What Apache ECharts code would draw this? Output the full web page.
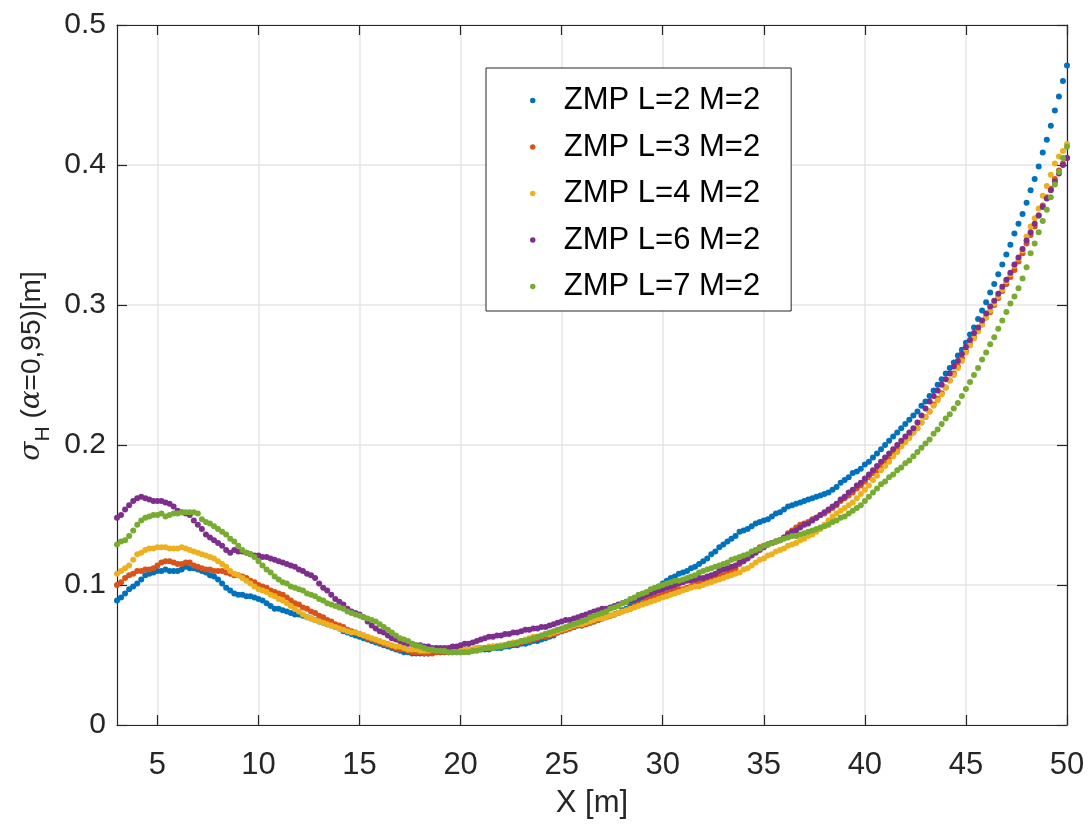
<!DOCTYPE html>
<html><head><meta charset="utf-8">
<script src="https://cdn.jsdelivr.net/npm/echarts@6/dist/echarts.min.js"></script>
<style>html,body{margin:0;padding:0;background:#fff}#c{width:1088px;height:832px}</style>
</head><body><div id="c"></div>
<script>
const X_START = 3, X_STEP = 0.2;
const seriesNames = ['ZMP L=2 M=2','ZMP L=3 M=2','ZMP L=4 M=2','ZMP L=6 M=2','ZMP L=7 M=2'];
const xTickValues = [5,10,15,20,25,30,35,40,45,50];
const xAxisTitle = 'X [m]';

const zmpL2 = [
.089,.091,.094,.097,.099, .101,.104,.107,.108,.109, .110,.110,.111,.110,.110, .110,.111,.113,.112,.112,
.111,.110,.109,.107,.106, .104,.101,.098,.096,.094, .093,.093,.092,.092,.091, .090,.089,.087,.085,.083,
.083,.082,.081,.080,.079, .079,.078,.077,.076,.075, .074,.073,.072,.071,.070, .069,.067,.066,.065,.064,
.063,.062,.061,.060,.059, .058,.057,.056,.055,.054, .053,.052,.052,.051,.051, .051,.051,.051,.052,.052,
.052,.052,.052,.052,.052, .052,.053,.053,.053,.054, .054,.054,.054,.055,.055, .055,.056,.056,.057,.057,
.058,.058,.059,.060,.060, .061,.062,.063,.064,.066, .067,.068,.069,.070,.071, .071,.072,.073,.074,.075,
.076,.077,.078,.079,.080, .082,.083,.085,.087,.089, .091,.093,.095,.097,.099, .101,.103,.105,.106,.108,
.109,.110,.112,.113,.115, .117,.119,.122,.124,.127, .129,.131,.133,.135,.138, .139,.140,.142,.144,.145,
.146,.147,.149,.151,.152, .154,.156,.157,.158,.159, .160,.161,.162,.163,.164, .165,.166,.168,.170,.173,
.175,.177,.180,.181,.183, .186,.188,.191,.194,.197, .200,.203,.206,.209,.212, .215,.218,.221,.224,.228,
.231,.235,.239,.243,.247, .251,.255,.259,.264,.268, .273,.279,.284,.290,.296, .302,.309,.315,.322,.329,
.336,.343,.351,.358,.365, .373,.382,.390,.399,.409, .418,.428,.439,.449,.460, .471];

const zmpL3 = [
.100,.102,.105,.107,.108, .110,.110,.111,.111,.112, .114,.116,.117,.117,.116, .115,.115,.116,.116,.114,
.113,.112,.111,.111,.110, .110,.110,.109,.108,.107, .107,.106,.105,.103,.102, .100,.099,.098,.096,.095,
.094,.093,.091,.089,.087, .086,.084,.083,.081,.080, .078,.077,.075,.074,.072, .071,.070,.068,.067,.066,
.065,.064,.062,.061,.060, .059,.058,.057,.056,.055, .054,.054,.053,.052,.052, .052,.051,.051,.051,.052,
.052,.052,.052,.053,.053, .053,.054,.054,.054,.055, .055,.055,.055,.056,.056, .056,.057,.057,.058,.058,
.059,.060,.060,.061,.062, .063,.063,.064,.065,.066, .067,.068,.069,.070,.071, .071,.072,.073,.074,.075,
.076,.077,.078,.079,.080, .081,.082,.083,.085,.086, .087,.089,.090,.091,.092, .093,.094,.095,.096,.097,
.097,.098,.099,.100,.101, .102,.103,.104,.105,.106, .107,.108,.110,.112,.115, .118,.120,.122,.125,.127,
.128,.129,.130,.131,.132, .134,.137,.139,.141,.143, .144,.145,.147,.148,.150, .151,.153,.155,.157,.160,
.162,.164,.166,.169,.171, .174,.177,.180,.182,.185, .188,.191,.194,.197,.200, .203,.206,.209,.212,.216,
.220,.224,.229,.233,.237, .241,.246,.251,.256,.262, .267,.272,.277,.282,.286, .291,.295,.300,.305,.310,
.315,.320,.325,.331,.337, .344,.350,.356,.364,.371, .377,.383,.390,.396,.401, .405];

const zmpL4 = [
.108,.110,.112,.114,.118, .122,.123,.125,.126,.126, .127,.127,.127,.126,.126, .126,.127,.126,.125,.124,
.123,.122,.121,.120,.119, .117,.115,.113,.110,.108, .107,.105,.103,.101,.099, .097,.096,.095,.093,.092,
.090,.089,.087,.085,.083, .081,.079,.077,.076,.075, .074,.073,.072,.071,.070, .069,.068,.067,.066,.066,
.065,.064,.063,.062,.061, .060,.059,.058,.057,.056, .056,.055,.054,.054,.054, .053,.053,.053,.054,.055,
.054,.053,.053,.053,.053, .053,.054,.054,.054,.055, .055,.055,.056,.056,.056, .057,.057,.058,.059,.059,
.060,.061,.062,.063,.063, .064,.065,.065,.066,.067, .068,.069,.070,.071,.072, .072,.073,.074,.075,.076,
.076,.077,.078,.079,.080, .081,.082,.083,.084,.085, .086,.087,.088,.089,.090, .091,.092,.093,.094,.095,
.096,.097,.098,.099,.099, .100,.101,.102,.103,.104, .105,.106,.107,.108,.109, .111,.112,.114,.116,.118,
.119,.121,.122,.124,.125, .126,.128,.129,.130,.132, .133,.135,.136,.138,.140, .143,.146,.149,.151,.153,
.155,.157,.159,.162,.165, .168,.171,.175,.178,.182, .185,.188,.192,.195,.199, .202,.205,.209,.212,.216,
.220,.224,.228,.232,.236, .241,.246,.250,.255,.260, .266,.271,.276,.281,.286, .291,.296,.301,.306,.311,
.317,.322,.328,.333,.339, .349,.356,.362,.369,.378, .385,.393,.401,.406,.410, .415];

const zmpL6 = [
.148,.150,.154,.157,.160, .162,.163,.162,.161,.160, .160,.160,.159,.158,.156, .153,.152,.151,.150,.146,
.143,.140,.136,.134,.132, .130,.128,.125,.123,.125, .124,.124,.123,.122,.121, .121,.120,.120,.119,.118,
.117,.116,.115,.114,.113, .111,.110,.108,.107,.105, .101,.098,.096,.093,.090, .088,.086,.083,.081,.080,
.079,.077,.074,.071,.069, .067,.066,.064,.062,.061, .060,.059,.058,.058,.057, .057,.056,.056,.055,.055,
.055,.055,.055,.056,.056, .057,.058,.058,.059,.060, .061,.062,.063,.063,.064, .064,.065,.065,.066,.066,
.067,.068,.068,.069,.069, .070,.070,.071,.072,.073, .074,.075,.075,.076,.077, .078,.079,.080,.081,.082,
.083,.083,.084,.085,.086, .087,.088,.089,.090,.091, .092,.093,.094,.095,.096, .097,.098,.099,.100,.101,
.102,.103,.103,.104,.105, .105,.106,.107,.108,.110, .111,.112,.113,.114,.116, .117,.119,.121,.123,.125,
.127,.129,.130,.131,.132, .134,.136,.138,.139,.141, .143,.144,.146,.148,.150, .152,.154,.156,.158,.161,
.163,.166,.168,.171,.173, .176,.179,.182,.185,.188, .191,.194,.197,.200,.203, .206,.209,.212,.216,.221,
.226,.231,.235,.239,.243, .247,.251,.256,.260,.265, .270,.275,.280,.284,.289, .294,.299,.303,.308,.313,
.318,.323,.329,.334,.340, .346,.352,.358,.364,.370, .376,.382,.388,.394,.400, .405];

const zmpL7 = [
.129,.131,.132,.135,.139, .143,.146,.148,.149,.150, .150,.151,.149,.150,.151, .151,.152,.152,.152,.152,
.151,.147,.145,.144,.142, .140,.138,.136,.133,.131, .128,.125,.123,.122,.120, .117,.114,.111,.109,.106,
.104,.102,.101,.099,.098, .097,.096,.094,.093,.092, .090,.089,.087,.086,.085, .084,.083,.081,.080,.079,
.078,.077,.076,.075,.074, .072,.070,.068,.066,.064, .062,.061,.060,.058,.057, .056,.055,.054,.054,.053,
.053,.053,.052,.052,.052, .052,.052,.052,.053,.053, .054,.055,.055,.055,.056, .056,.057,.058,.058,.059,
.060,.060,.061,.062,.063, .064,.065,.066,.067,.068, .069,.070,.071,.072,.073, .074,.075,.077,.078,.079,
.080,.081,.083,.084,.085, .087,.088,.090,.091,.093, .094,.095,.097,.098,.099, .100,.101,.102,.103,.103,
.104,.105,.106,.107,.109, .110,.111,.112,.113,.114, .115,.116,.118,.119,.120, .121,.122,.124,.125,.126,
.128,.129,.130,.131,.132, .133,.134,.135,.135,.136, .137,.138,.139,.140,.141, .142,.143,.145,.146,.148,
.149,.151,.153,.155,.157, .160,.163,.166,.169,.172, .174,.177,.179,.182,.184, .187,.189,.192,.195,.198,
.201,.204,.208,.211,.215, .219,.222,.226,.230,.235, .240,.245,.250,.255,.261, .266,.272,.277,.283,.289,
.295,.301,.306,.312,.319, .327,.337,.344,.352,.360, .368,.377,.386,.395,.405, .413];

const allValues = [zmpL2, zmpL3, zmpL4, zmpL6, zmpL7];
const colors = ['#0072BD','#D95319','#EDB120','#7E2F8E','#77AC30'];
const FONT = '"Liberation Sans", Arial, Helvetica, sans-serif';
const AX = '#262626';

const chart = echarts.init(document.getElementById('c'), null, {renderer: 'canvas'});

function xAxisCfg(pos, labels) {
  return {
    type: 'value', min: 3, max: 50, position: pos,
    axisLine: {show: true, onZero: false, lineStyle: {color: AX, width: 1.2}},
    axisTick: {show: true, inside: true, length: 10, customValues: xTickValues, lineStyle: {color: AX, width: 1.2}},
    axisLabel: {show: labels, customValues: xTickValues, margin: 25, fontSize: 31, color: AX, fontFamily: FONT},
    splitLine: {show: labels, lineStyle: {color: '#e6e6e6', width: 1.5}},
    name: labels ? xAxisTitle : '', nameLocation: 'middle', nameGap: 63,
    nameTextStyle: {fontSize: 31, color: AX, fontFamily: FONT}
  };
}
function yAxisCfg(pos, labels) {
  return {
    type: 'value', min: 0, max: 0.5, interval: 0.1, position: pos,
    axisLine: {show: true, lineStyle: {color: AX, width: 1.2}},
    axisTick: {show: true, inside: true, length: 10, lineStyle: {color: AX, width: 1.2}},
    axisLabel: {show: labels, margin: 11, fontSize: 30, color: AX, fontFamily: FONT},
    splitLine: {show: labels, lineStyle: {color: '#e6e6e6', width: 1.5}},
    name: labels ? '{s|σ}{sub|H} ({s|α}=0,95)[m]' : '', nameLocation: 'middle', nameGap: 62, nameRotate: 90,
    nameTextStyle: {fontSize: 28, color: AX, fontFamily: FONT, padding: [0, 0, 0, 18],
      rich: {
        s: {fontSize: 28, fontStyle: 'italic', fontFamily: '"DejaVu Serif", "Liberation Serif", serif', color: AX},
        sub: {fontSize: 21, color: AX, fontFamily: FONT, padding: [22, 0, 0, 0]}
      }}
  };
}

const option = {
  animation: false,
  backgroundColor: '#fff',
  grid: {left: 117, right: 21, top: 25, bottom: 107, containLabel: false, outerBoundsMode: 'none'},
  xAxis: [xAxisCfg('bottom', true), xAxisCfg('top', false)],
  yAxis: [yAxisCfg('left', true), yAxisCfg('right', false)],
  legend: {
    orient: 'vertical', left: 486, top: 68,
    padding: [17, 31, 9, 44], itemGap: 15.5, itemWidth: 52, itemHeight: 5.5,
    icon: 'circle', backgroundColor: '#fff', borderColor: AX, borderWidth: 1,
    textStyle: {fontSize: 31, color: '#000', fontFamily: FONT},
    data: seriesNames
  },
  series: allValues.map((vals, k) => ({
    type: 'scatter', name: seriesNames[k], xAxisIndex: 0, yAxisIndex: 0,
    symbol: 'circle', symbolSize: 6,
    itemStyle: {color: colors[k], opacity: 1},
    data: vals.map((v, i) => [+(X_START + i * X_STEP).toFixed(1), v])
  }))
};
chart.setOption(option);
</script></body></html>
